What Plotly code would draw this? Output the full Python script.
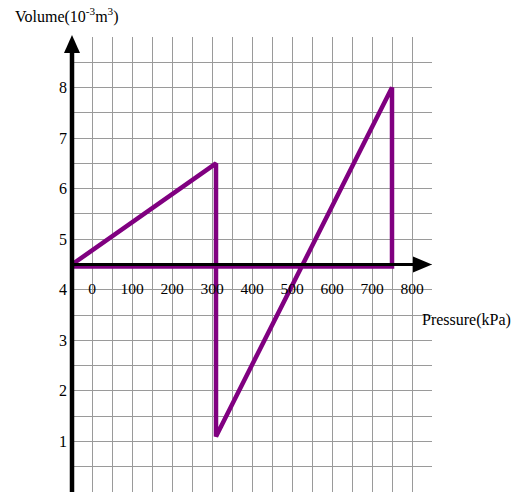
import plotly.graph_objects as go

# Pressure (kPa) / volume (10^-3 m^3) cycle
pressure = [-50, 310, 310, 750, 750, -50]
volume = [4.5, 6.5, 1.1, 8.0, 4.46, 4.46]

# labels written along the pressure axis
p_ticks = [0, 100, 200, 300, 400, 500, 600, 700, 800]
p_tick_row = 4.0
v_ticks = [1, 2, 3, 4, 5, 6, 7, 8]

X_RANGE = [-50, 850]
Y_RANGE = [0, 9]
AXIS_Y = 4.5
GRID = "#9a9a9a"
SERIF = "Liberation Serif, Times New Roman, serif"

fig = go.Figure()

fig.add_trace(go.Scatter(
    x=pressure, y=volume, mode="lines",
    line=dict(color="#800080", width=4.5),
    hoverinfo="skip", showlegend=False,
))

fig.add_trace(go.Scatter(
    x=p_ticks, y=[p_tick_row] * len(p_ticks), mode="text",
    text=[str(v) for v in p_ticks],
    textfont=dict(family=SERIF, size=15.5, color="black"),
    hoverinfo="skip", showlegend=False, cliponaxis=False,
))

# axis lines drawn through the grid
fig.add_shape(type="line", xref="x", yref="y", x0=X_RANGE[0], x1=840,
              y0=AXIS_Y, y1=AXIS_Y, line=dict(color="black", width=3), layer="above")
fig.add_shape(type="line", xref="paper", yref="paper", x0=0, x1=0,
              y0=0, y1=0.97, line=dict(color="black", width=4.5), layer="above")

# arrow heads (pixel-sized, anchored to axis ends; paper refs avoid clipping)
fig.add_shape(type="path", xref="paper", yref="y", xsizemode="pixel", ysizemode="pixel",
              xanchor=1, yanchor=AXIS_Y,
              path="M 0 0 L -19 8 L -19 -8 Z",
              fillcolor="black", line=dict(color="black", width=0), layer="above")
fig.add_shape(type="path", xref="paper", yref="paper", xsizemode="pixel", ysizemode="pixel",
              xanchor=0, yanchor=1,
              path="M 0 2 L -8 -16 L 8 -16 Z",
              fillcolor="black", line=dict(color="black", width=0), layer="above")

fig.add_annotation(x=0, y=1, xref="paper", yref="paper", xanchor="left", yanchor="middle",
                   text="Volume(10<sup>-3</sup>m<sup>3</sup>)", showarrow=False,
                   xshift=-59, yshift=22,
                   font=dict(family=SERIF, size=16, color="black"))
fig.add_annotation(x=X_RANGE[1], y=3.4, xref="x", yref="y", xanchor="left", yanchor="middle",
                   text="Pressure(kPa)", showarrow=False, xshift=-12,
                   font=dict(family=SERIF, size=16, color="black"))

fig.update_xaxes(range=X_RANGE, tick0=-50, dtick=50, showticklabels=False,
                 showgrid=True, gridcolor=GRID, gridwidth=1, zeroline=False,
                 showline=False, ticks="")
fig.update_yaxes(range=Y_RANGE, tickvals=v_ticks, ticktext=[str(v) for v in v_ticks],
                 showgrid=True, gridcolor=GRID, gridwidth=1, zeroline=False,
                 showline=False, ticks="", ticklabelstandoff=4,
                 tickfont=dict(family=SERIF, size=16, color="black"),
                 minor=dict(tick0=0, dtick=0.5, showgrid=True, gridcolor=GRID, gridwidth=1))

fig.update_layout(
    width=522, height=493,
    margin=dict(l=72, r=90, t=37, b=1),
    plot_bgcolor="white", paper_bgcolor="white",
    showlegend=False,
)

fig.write_html("out.html")
